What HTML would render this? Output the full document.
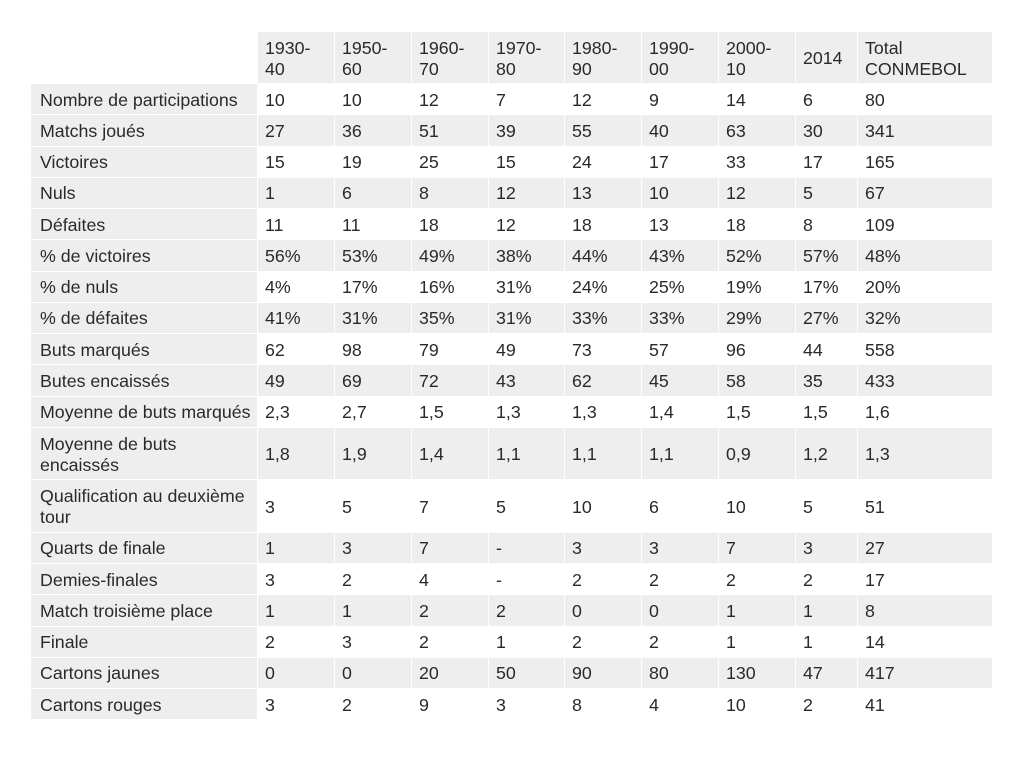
<!DOCTYPE html>
<html><head><meta charset="utf-8"><style>
html,body{margin:0;padding:0;background:#fff;width:1024px;height:766px;overflow:hidden}
table{position:absolute;left:30px;top:31px;border-collapse:collapse;table-layout:fixed;font-family:"Liberation Sans",sans-serif;font-size:17.8px;color:#2a2a2a}
td{border:1px solid #fff;padding:2px 0 0 7px;height:31.25px;box-sizing:border-box;line-height:21px;vertical-align:middle;white-space:nowrap;overflow:hidden}
td.t{height:52.5px;white-space:normal}
tr.h td{height:52px;background:#eee;white-space:normal}
tr.h td:first-child{background:#fff}
td:first-child{background:#eee;padding-left:9px}
tr.g td{background:#eee}
</style></head><body>
<table>
<colgroup><col style="width:227px"><col style="width:77px"><col style="width:77px"><col style="width:77px"><col style="width:76px"><col style="width:77px"><col style="width:77px"><col style="width:77px"><col style="width:62px"><col style="width:135px"></colgroup>
<tr class="h"><td></td><td>1930-<br>40</td><td>1950-<br>60</td><td>1960-<br>70</td><td>1970-<br>80</td><td>1980-<br>90</td><td>1990-<br>00</td><td>2000-<br>10</td><td>2014</td><td>Total<br>CONMEBOL</td></tr>
<tr><td>Nombre de participations</td><td>10</td><td>10</td><td>12</td><td>7</td><td>12</td><td>9</td><td>14</td><td>6</td><td>80</td></tr>
<tr class="g"><td>Matchs joués</td><td>27</td><td>36</td><td>51</td><td>39</td><td>55</td><td>40</td><td>63</td><td>30</td><td>341</td></tr>
<tr><td>Victoires</td><td>15</td><td>19</td><td>25</td><td>15</td><td>24</td><td>17</td><td>33</td><td>17</td><td>165</td></tr>
<tr class="g"><td>Nuls</td><td>1</td><td>6</td><td>8</td><td>12</td><td>13</td><td>10</td><td>12</td><td>5</td><td>67</td></tr>
<tr><td>Défaites</td><td>11</td><td>11</td><td>18</td><td>12</td><td>18</td><td>13</td><td>18</td><td>8</td><td>109</td></tr>
<tr class="g"><td>% de victoires</td><td>56%</td><td>53%</td><td>49%</td><td>38%</td><td>44%</td><td>43%</td><td>52%</td><td>57%</td><td>48%</td></tr>
<tr><td>% de nuls</td><td>4%</td><td>17%</td><td>16%</td><td>31%</td><td>24%</td><td>25%</td><td>19%</td><td>17%</td><td>20%</td></tr>
<tr class="g"><td>% de défaites</td><td>41%</td><td>31%</td><td>35%</td><td>31%</td><td>33%</td><td>33%</td><td>29%</td><td>27%</td><td>32%</td></tr>
<tr><td>Buts marqués</td><td>62</td><td>98</td><td>79</td><td>49</td><td>73</td><td>57</td><td>96</td><td>44</td><td>558</td></tr>
<tr class="g"><td>Butes encaissés</td><td>49</td><td>69</td><td>72</td><td>43</td><td>62</td><td>45</td><td>58</td><td>35</td><td>433</td></tr>
<tr><td>Moyenne de buts marqués</td><td>2,3</td><td>2,7</td><td>1,5</td><td>1,3</td><td>1,3</td><td>1,4</td><td>1,5</td><td>1,5</td><td>1,6</td></tr>
<tr class="g"><td class="t">Moyenne de buts<br>encaissés</td><td>1,8</td><td>1,9</td><td>1,4</td><td>1,1</td><td>1,1</td><td>1,1</td><td>0,9</td><td>1,2</td><td>1,3</td></tr>
<tr><td class="t">Qualification au deuxième<br>tour</td><td>3</td><td>5</td><td>7</td><td>5</td><td>10</td><td>6</td><td>10</td><td>5</td><td>51</td></tr>
<tr class="g"><td>Quarts de finale</td><td>1</td><td>3</td><td>7</td><td>-</td><td>3</td><td>3</td><td>7</td><td>3</td><td>27</td></tr>
<tr><td>Demies-finales</td><td>3</td><td>2</td><td>4</td><td>-</td><td>2</td><td>2</td><td>2</td><td>2</td><td>17</td></tr>
<tr class="g"><td>Match troisième place</td><td>1</td><td>1</td><td>2</td><td>2</td><td>0</td><td>0</td><td>1</td><td>1</td><td>8</td></tr>
<tr><td>Finale</td><td>2</td><td>3</td><td>2</td><td>1</td><td>2</td><td>2</td><td>1</td><td>1</td><td>14</td></tr>
<tr class="g"><td>Cartons jaunes</td><td>0</td><td>0</td><td>20</td><td>50</td><td>90</td><td>80</td><td>130</td><td>47</td><td>417</td></tr>
<tr><td>Cartons rouges</td><td>3</td><td>2</td><td>9</td><td>3</td><td>8</td><td>4</td><td>10</td><td>2</td><td>41</td></tr>
</table>
</body></html>
